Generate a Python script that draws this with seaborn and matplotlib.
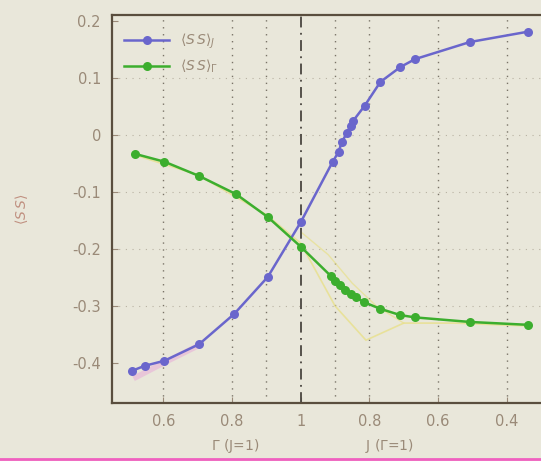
import numpy as np
import pandas as pd
import matplotlib
matplotlib.use("Agg")
import matplotlib.pyplot as plt
import seaborn as sns
from matplotlib.lines import Line2D

# x coordinate: left half is Gamma (J=1), right half is J (Gamma=1) mapped as 2-J
blue_x = [0.507, 0.545, 0.603, 0.704, 0.806, 0.904, 1.0, 1.093, 1.11, 1.12, 1.135,
          1.145, 1.153, 1.186, 1.232, 1.29, 1.333, 1.493, 1.661]
blue_y = [-0.414, -0.405, -0.396, -0.367, -0.314, -0.249, -0.153, -0.047, -0.030,
          -0.012, 0.004, 0.016, 0.025, 0.051, 0.093, 0.119, 0.133, 0.163, 0.181]
green_x = [0.516, 0.603, 0.704, 0.812, 0.904, 1.0, 1.087, 1.10, 1.115, 1.13, 1.145,
           1.16, 1.183, 1.232, 1.29, 1.333, 1.493, 1.661]
green_y = [-0.033, -0.047, -0.072, -0.104, -0.144, -0.196, -0.247, -0.256, -0.264,
           -0.272, -0.279, -0.285, -0.293, -0.305, -0.316, -0.320, -0.328, -0.333]
faint1_x = [0.516, 0.7, 0.9, 1.0, 1.1, 1.19, 1.3, 1.45, 1.66]
faint1_y = [-0.035, -0.07, -0.14, -0.19, -0.30, -0.36, -0.33, -0.33, -0.335]
faint2_x = [1.0, 1.08, 1.15, 1.22, 1.3]
faint2_y = [-0.17, -0.21, -0.26, -0.30, -0.33]
pink_x = [0.52, 0.6, 0.7]
pink_y = [-0.425, -0.40, -0.37]

tick_pos = [0.6, 0.8, 1.0, 1.2, 1.4, 1.6]
tick_lab = ["0.6", "0.8", "1", "0.8", "0.6", "0.4"]
ytick_pos = [-0.4, -0.3, -0.2, -0.1, 0.0, 0.1, 0.2]
ytick_lab = ["-0.4", "-0.3", "-0.2", "-0.1", "0", "0.1", "0.2"]

df = pd.concat([
    pd.DataFrame({"x": blue_x, "y": blue_y, "s": r"$\langle S\,S\rangle_J$"}),
    pd.DataFrame({"x": green_x, "y": green_y, "s": r"$\langle S\,S\rangle_\Gamma$"}),
])

bg = "#e9e7da"
txt = "#9a8a78"
fig = plt.figure(figsize=(5.41, 4.61), dpi=100, facecolor=bg)
ax = fig.add_axes([0.207, 0.126, 0.793, 0.841], facecolor=bg)

ax.plot(faint1_x, faint1_y, color="#e8e08a", lw=1.2, alpha=0.8, zorder=1)
ax.plot(faint2_x, faint2_y, color="#e8e08a", lw=1.0, alpha=0.7, zorder=1)
ax.plot(pink_x, pink_y, color="#e8b0d8", lw=4, alpha=0.6, zorder=1)

sns.lineplot(data=df, x="x", y="y", hue="s", palette=["#6a66cc", "#3cae2e"],
             marker="o", markersize=6.5, markeredgewidth=0, lw=1.8, ax=ax,
             sort=False, estimator=None, zorder=3)

ax.set_xlim(0.45, 1.7)
ax.set_ylim(-0.47, 0.21)
ax.set_xticks(tick_pos)
ax.set_xticklabels(tick_lab)
ax.set_yticks(ytick_pos)
ax.set_yticklabels(ytick_lab)
ax.tick_params(colors=txt, labelsize=10.5, direction="in", length=4, pad=8)
for lab in ax.get_xticklabels() + ax.get_yticklabels():
    lab.set_color(txt)

for xv in [0.6, 0.8, 0.9, 1.1, 1.2, 1.4, 1.6]:
    ax.axvline(xv, color="#7a7468", ls=(0, (1, 4)), lw=1.0, zorder=0)
for yv in ytick_pos[1:-1]:
    ax.axhline(yv, color="#b8b2a2", ls=(0, (1, 5)), lw=0.8, zorder=0)
ax.axvline(1.0, color="#4a4640", ls=(0, (6, 3, 1, 3)), lw=1.3, zorder=2)

for side in ["left", "bottom", "top"]:
    ax.spines[side].set_color("#5a4e3e")
    ax.spines[side].set_linewidth(1.6)
ax.spines["right"].set_visible(False)

ax.set_xlabel("")
ax.set_ylabel(r"$\langle S\,S\rangle$", color="#c09080", fontsize=10, labelpad=30)

leg = ax.legend(loc="upper left", bbox_to_anchor=(0.0, 0.99), frameon=False,
                fontsize=10, handlelength=3.2, labelcolor=txt)

fig.text(0.435, 0.014, r"$\Gamma$ (J=1)", color=txt, fontsize=10, ha="center",
         va="bottom")
fig.text(0.72, 0.014, r"J ($\Gamma$=1)", color=txt, fontsize=10, ha="center",
         va="bottom")
fig.add_artist(Line2D([0, 1], [0.004, 0.004], transform=fig.transFigure,
                      color="#f060c0", lw=2))

fig.savefig("out.png", dpi=100, facecolor=bg)
